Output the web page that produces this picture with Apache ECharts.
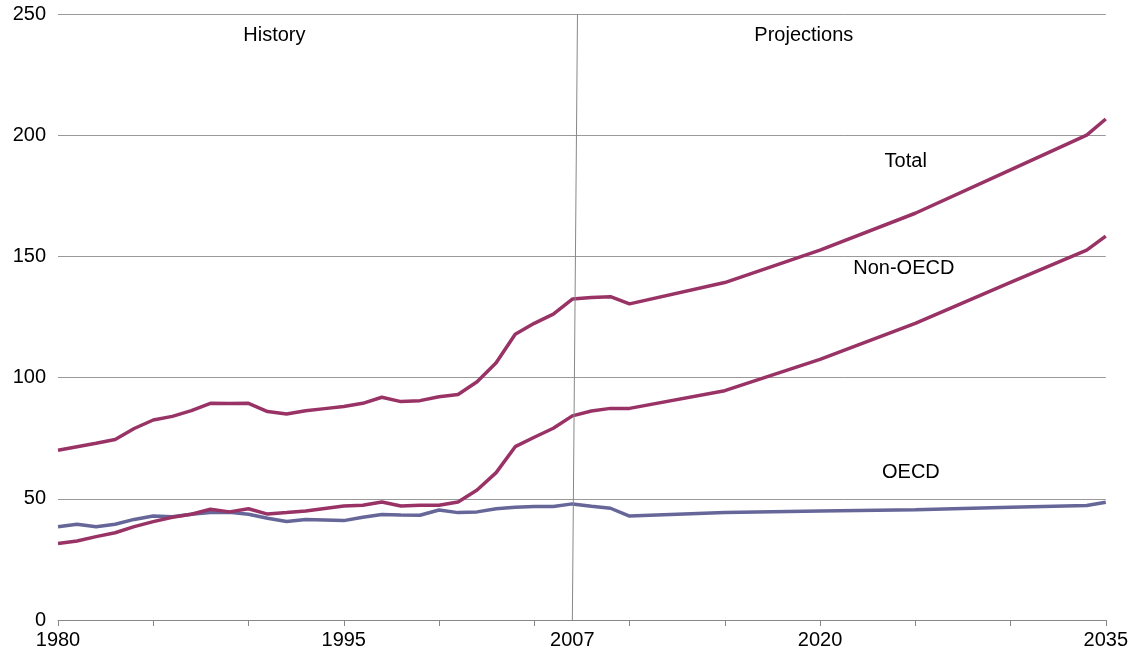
<!DOCTYPE html>
<html>
<head>
<meta charset="utf-8">
<script src="https://cdn.jsdelivr.net/npm/echarts@6/dist/echarts.min.js"></script>
<style>
html,body{margin:0;padding:0;background:#fff;}
#chart{width:1131px;height:662px;}
</style>
</head>
<body>
<div id="chart"></div>
<script>
const years = [1980,1981,1982,1983,1984,1985,1986,1987,1988,1989,1990,1991,1992,1993,1994,1995,1996,1997,1998,1999,2000,2001,2002,2003,2004,2005,2006,2007,2008,2009,2010,2015,2020,2025,2030,2034,2035];
const total = [70.0,71.5,72.9,74.5,79.0,82.5,84.0,86.4,89.4,89.3,89.4,86.0,85.0,86.3,87.2,88.1,89.4,91.9,90.1,90.5,92.1,93.0,98.3,106.1,117.9,122.4,126.2,132.4,133.0,133.4,130.4,139.2,152.6,167.8,185.7,200.0,206.7];
const nonOecd = [31.6,32.6,34.4,36.0,38.5,40.6,42.4,43.6,45.7,44.6,45.9,43.7,44.3,45.0,46.0,47.0,47.3,48.7,47.0,47.3,47.3,48.7,53.6,60.8,71.5,75.4,79.1,84.2,86.2,87.3,87.3,94.6,107.5,122.4,139.3,152.6,158.4];
const oecd = [38.5,39.5,38.5,39.5,41.5,42.9,42.6,43.6,44.3,44.4,43.6,42.0,40.6,41.5,41.3,41.0,42.4,43.5,43.3,43.2,45.4,44.3,44.6,45.9,46.5,46.8,46.8,47.9,46.9,46.1,42.9,44.3,45.0,45.5,46.5,47.2,48.6];
const tickYears = [1980,1985,1990,1995,2000,2005,2010,2015,2020,2025,2030,2035];
const labelYears = [1980,1995,2007,2020,2035];
const dividerYear = 2007;

const pair = arr => years.map((y, i) => [y, arr[i]]);
const FONT = 'Liberation Sans, Arial, sans-serif';
const RED = '#993366';
const BLUE = '#666699';

const chart = echarts.init(document.getElementById('chart'));
chart.setOption({
  animation: false,
  backgroundColor: '#fff',
  grid: {left: 58, right: 25, top: 14, bottom: 42, containLabel: false},
  xAxis: {
    type: 'value', min: 1980, max: 2035,
    axisLine: {show: true, lineStyle: {color: '#888', width: 1}},
    axisTick: {show: true, customValues: tickYears, length: 6, lineStyle: {color: '#888'}},
    axisLabel: {customValues: labelYears, color: '#000', fontFamily: FONT, fontSize: 20, margin: 10,
      formatter: v => String(v)},
    splitLine: {show: false}
  },
  yAxis: {
    type: 'value', min: 0, max: 250, interval: 50,
    axisLine: {show: false}, axisTick: {show: false},
    axisLabel: {color: '#000', fontFamily: FONT, fontSize: 20, margin: 12},
    splitLine: {show: true, lineStyle: {color: '#999', width: 1}}
  },
  series: [
    {
      name: 'OECD', type: 'line', data: pair(oecd), showSymbol: false, symbol: 'none',
      lineStyle: {color: BLUE, width: 3.5}, z: 3,
      markLine: {
        silent: true, symbol: 'none', animation: false,
        lineStyle: {color: '#888', width: 1, type: 'solid'},
        label: {show: false},
        data: [[{coord: [dividerYear, 0]}, {coord: [dividerYear + 0.27, 250]}]]
      },
      markPoint: {
        symbol: 'circle', symbolSize: 0, silent: true,
        label: {show: true, color: '#000', fontFamily: FONT, fontSize: 20, formatter: p => p.name, position: 'inside'},
        data: [
          {name: 'History', coord: [1991.36, 241.3]},
          {name: 'Projections', coord: [2019.15, 241.3]},
          {name: 'Total', coord: [2024.5, 189]},
          {name: 'Non-OECD', coord: [2024.4, 145.2]},
          {name: 'OECD', coord: [2024.77, 61]}
        ]
      }
    },
    {name: 'Non-OECD', type: 'line', data: pair(nonOecd), showSymbol: false, symbol: 'none', lineStyle: {color: RED, width: 3.5}, z: 4},
    {name: 'Total', type: 'line', data: pair(total), showSymbol: false, symbol: 'none', lineStyle: {color: RED, width: 3.5}, z: 4}
  ]
});
</script>
</body>
</html>
